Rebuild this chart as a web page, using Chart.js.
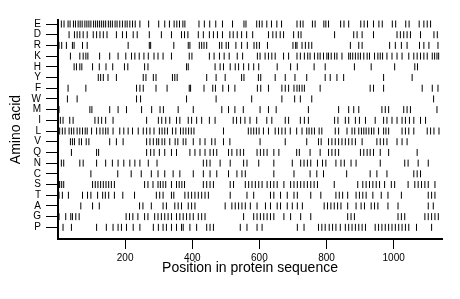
<!DOCTYPE html>
<html>
<head>
<meta charset="utf-8">
<script src="https://cdn.jsdelivr.net/npm/chart.js@4.4.0/dist/chart.umd.min.js"></script>
<style>
html, body { margin: 0; padding: 0; background: #fff; }
</style>
</head>
<body>
<canvas id="aaChart" width="460" height="299"></canvas>
<script>
// rows top to bottom
var aminoAcids = ['E','D','R','K','H','Y','F','W','M','I','L','V','Q','N','C','S','T','A','G','P'];
var xTicks = [200, 400, 600, 800, 1000];
var seqLength = 1144;

// positions of each residue in the sequence
var posE = [10, 18, 30, 36, 46, 52, 60, 66, 72, 80, 86, 92, 98, 106, 112, 118, 124, 130, 136, 142, 150, 156, 162, 170, 176, 184, 192, 200, 206, 214, 222, 230, 244, 270, 300, 318, 332, 346, 354, 362, 372, 378, 420, 436, 452, 470, 490, 520, 554, 560, 592, 600, 608, 622, 636, 652, 666, 712, 722, 730, 758, 766, 792, 798, 806, 842, 852, 866, 902, 912, 922, 940, 956, 966, 996, 1006, 1036, 1046, 1076, 1090, 1100, 1110];
var posD = [33, 49, 57, 65, 75, 87, 105, 115, 125, 135, 146, 174, 192, 204, 224, 236, 272, 308, 338, 368, 377, 387, 418, 433, 451, 463, 475, 490, 512, 522, 534, 547, 562, 580, 627, 640, 650, 662, 672, 702, 716, 724, 824, 881, 891, 906, 940, 1010, 1020, 1030, 1040, 1050, 1080, 1120, 1130];
var posR = [3, 11, 25, 43, 48, 73, 87, 209, 272, 276, 345, 388, 393, 421, 428, 435, 443, 481, 488, 501, 508, 530, 547, 564, 584, 592, 600, 624, 700, 708, 712, 727, 737, 747, 756, 871, 896, 906, 988, 1005, 1023, 1040, 1077, 1090, 1105, 1132];
var posK = [37, 65, 75, 83, 89, 124, 154, 179, 202, 219, 229, 242, 256, 269, 286, 298, 313, 338, 391, 399, 451, 465, 481, 495, 510, 534, 550, 594, 602, 617, 627, 637, 647, 672, 687, 712, 722, 734, 744, 751, 764, 774, 781, 791, 801, 806, 814, 824, 831, 846, 866, 871, 878, 886, 894, 901, 911, 921, 928, 943, 953, 960, 967, 980, 995, 1010, 1025, 1045, 1060, 1070, 1080, 1090, 1100, 1115, 1122, 1129, 1134];
var posH = [48, 55, 65, 71, 103, 123, 143, 163, 198, 208, 258, 268, 383, 388, 468, 483, 493, 513, 528, 538, 553, 568, 583, 598, 653, 693, 713, 763, 796, 883, 933, 1003, 1063, 1071];
var posY = [120, 127, 135, 149, 174, 254, 262, 284, 292, 341, 348, 355, 443, 471, 498, 547, 554, 597, 604, 647, 677, 706, 741, 796, 811, 831, 851, 970, 1055];
var posF = [30, 83, 234, 244, 254, 292, 325, 391, 395, 435, 461, 469, 491, 508, 527, 594, 604, 627, 667, 677, 687, 703, 712, 719, 727, 734, 781, 930, 940, 970, 1085, 1115, 1132];
var posW = [28, 57, 234, 246, 383, 471, 577, 667, 705, 722, 756, 1119];
var posM = [3, 95, 101, 154, 179, 204, 249, 279, 304, 314, 358, 403, 488, 508, 527, 552, 602, 627, 650, 746, 836, 866, 881, 896, 965, 975, 985, 1030, 1040, 1050, 1129];
var posI = [7, 15, 35, 45, 110, 120, 130, 142, 164, 264, 299, 309, 321, 333, 353, 363, 388, 398, 413, 428, 451, 468, 522, 532, 544, 557, 572, 592, 622, 637, 677, 687, 722, 734, 746, 824, 834, 856, 866, 886, 898, 916, 945, 970, 980, 995, 1010, 1025, 1035, 1047, 1060, 1080, 1095];
var posL = [5, 13, 21, 33, 40, 47, 57, 65, 73, 81, 87, 100, 115, 125, 134, 142, 149, 164, 184, 196, 209, 222, 239, 254, 264, 274, 286, 302, 310, 318, 326, 341, 351, 365, 373, 381, 389, 397, 405, 493, 567, 575, 583, 591, 599, 612, 627, 647, 657, 667, 677, 692, 711, 727, 741, 748, 756, 764, 778, 786, 826, 836, 861, 876, 884, 896, 904, 911, 918, 926, 934, 941, 955, 970, 977, 985, 1025, 1035, 1045, 1060, 1100, 1110, 1120, 1135];
var posV = [37, 43, 49, 63, 70, 84, 92, 154, 174, 194, 264, 274, 284, 294, 300, 310, 318, 333, 349, 357, 373, 381, 403, 423, 438, 458, 468, 493, 512, 602, 677, 741, 776, 784, 806, 816, 826, 836, 846, 856, 866, 876, 886, 906, 950, 960, 970, 980, 1010, 1025, 1040];
var posQ = [40, 115, 121, 264, 276, 286, 302, 318, 338, 353, 393, 408, 423, 438, 453, 463, 473, 508, 518, 533, 543, 553, 593, 603, 613, 623, 643, 658, 711, 719, 751, 781, 806, 816, 826, 836, 901, 911, 921, 930, 940, 960, 985, 1070];
var posN = [10, 17, 65, 75, 115, 142, 162, 179, 196, 214, 229, 244, 269, 295, 433, 443, 453, 483, 513, 553, 563, 598, 643, 698, 723, 733, 743, 753, 773, 788, 798, 828, 843, 853, 873, 888, 960, 1033, 1043, 1073, 1103];
var posC = [98, 178, 218, 248, 278, 298, 318, 343, 363, 403, 433, 453, 473, 508, 533, 548, 558, 643, 703, 751, 771, 791, 860, 930, 950, 980, 1060, 1070, 1080];
var posS = [3, 5, 11, 17, 103, 111, 119, 127, 135, 143, 151, 159, 168, 258, 268, 283, 298, 305, 313, 321, 338, 353, 361, 369, 377, 433, 443, 453, 463, 513, 523, 558, 568, 578, 588, 598, 608, 623, 633, 643, 653, 673, 693, 703, 713, 723, 733, 743, 753, 763, 773, 823, 893, 908, 918, 928, 938, 948, 958, 973, 993, 1003, 1043, 1063, 1073, 1083, 1093, 1103, 1123];
var posT = [3, 13, 31, 73, 88, 98, 118, 133, 141, 151, 168, 193, 228, 293, 303, 313, 338, 345, 378, 388, 398, 408, 418, 428, 438, 448, 513, 563, 583, 633, 643, 663, 683, 703, 713, 753, 783, 828, 838, 848, 863, 888, 898, 908, 918, 938, 963, 983, 1023, 1103, 1113, 1123];
var posA = [68, 103, 123, 243, 253, 278, 313, 323, 348, 358, 368, 388, 398, 408, 498, 518, 528, 538, 548, 558, 573, 593, 618, 633, 653, 663, 683, 698, 713, 728, 793, 803, 813, 823, 833, 843, 863, 888, 903, 913, 933, 943, 953, 983, 1013, 1103, 1118];
var posG = [3, 23, 38, 43, 53, 63, 203, 213, 223, 238, 258, 268, 288, 298, 308, 318, 328, 338, 353, 363, 373, 383, 393, 403, 418, 428, 438, 553, 583, 593, 603, 613, 623, 633, 643, 673, 693, 723, 753, 863, 873, 883, 1013, 1023, 1033, 1093, 1103, 1113, 1123, 1133];
var posP = [15, 40, 115, 144, 164, 179, 189, 204, 224, 244, 284, 299, 313, 323, 338, 353, 368, 373, 393, 413, 443, 453, 463, 543, 563, 593, 608, 713, 733, 776, 786, 796, 808, 818, 828, 841, 856, 866, 876, 886, 896, 906, 916, 945, 955, 965, 975, 985, 995, 1005, 1015, 1025, 1035, 1045, 1068, 1113];

var rows = [posE, posD, posR, posK, posH, posY, posF, posW, posM, posI, posL, posV, posQ, posN, posC, posS, posT, posA, posG, posP];

var points = [];
for (var i = 0; i < rows.length; i++) {
    for (var j = 0; j < rows[i].length; j++) {
        points.push({x: rows[i][j], y: i});
    }
}

Chart.defaults.font.family = '"Liberation Sans", Arial, sans-serif';
Chart.defaults.color = '#000';

var aaChart = new Chart(document.getElementById('aaChart'), {
    type: 'scatter',
    data: {
        datasets: [{
            data: points,
            pointStyle: 'line',
            rotation: 90,
            radius: 3.5,
            hoverRadius: 3.5,
            borderWidth: 1,
            borderColor: '#000',
            backgroundColor: '#000'
        }]
    },
    options: {
        responsive: false,
        animation: false,
        devicePixelRatio: 1,
        events: [],
        layout: { padding: { top: 20, right: 18, bottom: 0, left: 0 } },
        plugins: { legend: { display: false }, tooltip: { enabled: false } },
        scales: {
            x: {
                type: 'linear',
                min: 0,
                max: seqLength,
                afterBuildTicks: function (s) { s.ticks = xTicks.map(function (v) { return {value: v}; }); },
                afterFit: function (s) { s.height = 60; },
                grid: { drawOnChartArea: false, tickLength: 10, color: '#000', lineWidth: 1 },
                border: { color: '#000', width: 2 },
                ticks: {
                    font: { size: 10 },
                    padding: 3,
                    maxRotation: 0,
                    callback: function (v) { return String(v); }
                },
                title: { display: true, text: 'Position in protein sequence', font: { size: 14 }, padding: { top: 0, bottom: 22 } }
            },
            y: {
                type: 'linear',
                reverse: true,
                min: -0.374,
                max: 20.09,
                afterBuildTicks: function (s) { s.ticks = aminoAcids.map(function (a, k) { return {value: k}; }); },
                afterFit: function (s) { s.width = 58; },
                grid: { drawOnChartArea: false, tickLength: 12, color: '#000', lineWidth: 1 },
                border: { color: '#000', width: 2 },
                ticks: {
                    font: { size: 10 },
                    padding: 5,
                    autoSkip: false,
                    callback: function (v) { return aminoAcids[v]; }
                },
                title: { display: true, text: 'Amino acid', font: { size: 14 }, padding: { top: 8, bottom: 0 } }
            }
        }
    }
});
</script>
</body>
</html>
